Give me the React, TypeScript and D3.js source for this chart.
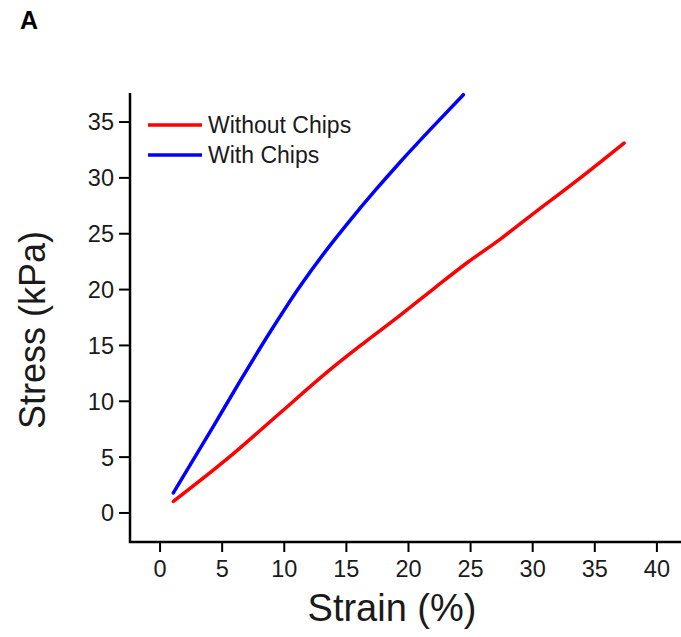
import React from "react";
import * as d3 from "d3";

const xTicks = [0, 5, 10, 15, 20, 25, 30, 35, 40];
const yTicks = [0, 5, 10, 15, 20, 25, 30, 35];

const seriesNames = ["Without Chips", "With Chips"];
const seriesColors = ["#ff0000", "#0000ff"];

const withoutStrain = [1.07, 5.64, 9.66, 13.69, 16.5, 19.32, 22.0, 24.69, 27.37, 30.0, 33.6, 37.36];
const withoutStress = [1.04, 5.07, 8.95, 12.83, 15.3, 17.7, 20.05, 22.38, 24.5, 26.75, 29.8, 33.12];

const withStrain = [1.07, 4.29, 6.44, 8.86, 11.27, 13.3, 15.3, 17.3, 19.32, 21.9, 24.42];
const withStress = [1.79, 7.75, 11.8, 16.2, 20.3, 23.4, 26.2, 28.85, 31.4, 34.5, 37.45];

const W = 681;
const H = 637;
const left = 130;
const right = 681;
const top = 93;
const bottom = 542;

export default function App() {
  const x = d3.scaleLinear().domain([-2.42, 41.94]).range([left, right]);
  const y = d3.scaleLinear().domain([-2.6, 37.6]).range([bottom, top]);

  const series = [
    withoutStrain.map((v, i) => [v, withoutStress[i]] as [number, number]),
    withStrain.map((v, i) => [v, withStress[i]] as [number, number]),
  ];
  const line = d3
    .line<[number, number]>()
    .x((d) => x(d[0]))
    .y((d) => y(d[1]))
    .curve(d3.curveMonotoneX);

  const font = "'Liberation Sans', Arial, sans-serif";
  const textColor = "#1a1a1a";

  return (
    <svg
      width={W}
      height={H}
      style={{ position: "absolute", left: 0, top: 0, background: "#fff" }}
      fontFamily={font}
    >
      <rect x={0} y={0} width={W} height={H} fill="#fff" />
      <text x={20} y={29} fontSize={25} fontWeight="bold" fill="#000">
        A
      </text>

      {series.map((s, i) => (
        <path
          key={i}
          d={line(s) || ""}
          fill="none"
          stroke={seriesColors[i]}
          strokeWidth={3.5}
          strokeLinecap="round"
        />
      ))}

      {/* axes */}
      <line x1={left} x2={left} y1={top} y2={bottom + 1} stroke="#000" strokeWidth={2.5} />
      <line x1={left - 1} x2={right} y1={bottom} y2={bottom} stroke="#000" strokeWidth={2.5} />

      {yTicks.map((t) => (
        <g key={"y" + t}>
          <line x1={left - 11} x2={left} y1={y(t)} y2={y(t)} stroke="#000" strokeWidth={2} />
          <text
            x={left - 16}
            y={y(t)}
            dy="0.36em"
            textAnchor="end"
            fontSize={23.5}
            fill={textColor}
          >
            {t}
          </text>
        </g>
      ))}
      {xTicks.map((t) => (
        <g key={"x" + t}>
          <line x1={x(t)} x2={x(t)} y1={bottom} y2={bottom + 10} stroke="#000" strokeWidth={2} />
          <text x={x(t)} y={577} textAnchor="middle" fontSize={23.5} fill={textColor}>
            {t}
          </text>
        </g>
      ))}

      <text x={392} y={621} textAnchor="middle" fontSize={38} fill={textColor}>
        Strain (%)
      </text>
      <text
        transform={`translate(45, 330) rotate(-90)`}
        textAnchor="middle"
        fontSize={36}
        fill={textColor}
      >
        Stress (kPa)
      </text>

      {/* legend */}
      {seriesNames.map((n, i) => (
        <g key={n} transform={`translate(148, ${125 + i * 30})`}>
          <line x1={0} x2={54} y1={0} y2={0} stroke={seriesColors[i]} strokeWidth={3.5} />
          <text x={60} y={0} dy="0.36em" fontSize={23} fill={textColor}>
            {n}
          </text>
        </g>
      ))}
    </svg>
  );
}
